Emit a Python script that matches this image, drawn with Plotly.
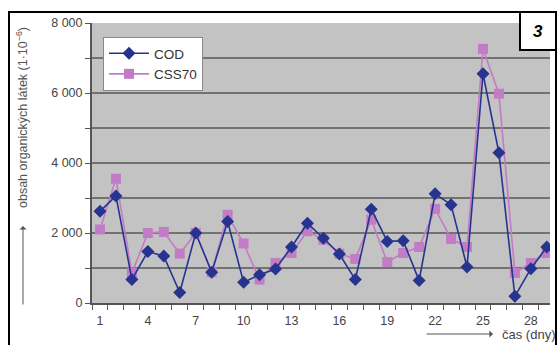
import plotly.graph_objects as go

days = list(range(1, 30))
cod = [2620, 3060, 670, 1470, 1340, 300, 2000, 880, 2330, 590,
       810, 970, 1600, 2280, 1850, 1400, 670, 2680, 1760, 1780,
       640, 3120, 2810, 1030, 6550, 4290, 190, 980, 1600]
css70 = [2100, 3550, 860, 2000, 2030, 1410, 2000, 880, 2520, 1700,
         670, 1140, 1430, 2050, 1810, 1410, 1260, 2380, 1170, 1430,
         1600, 2690, 1830, 1600, 7260, 5980, 860, 1140, 1430]
tick_days = days[::3]
tick_labels = [str(d) for d in tick_days]

FONT = "Liberation Sans, Arial, sans-serif"
COD_C = "#26338f"
CSS_C = "#c27cc6"

fig = go.Figure()
fig.add_trace(go.Scatter(x=days, y=css70, name="CSS70", mode="lines+markers",
                         line=dict(color=CSS_C, width=1.6),
                         marker=dict(symbol="square", size=10, color=CSS_C)))
fig.add_trace(go.Scatter(x=days, y=cod, name="COD", mode="lines+markers",
                         line=dict(color=COD_C, width=1.6),
                         marker=dict(symbol="diamond", size=10, color=COD_C)))

W, H = 558, 345
L, R, T, B = 92, 8, 23, 42
pw, ph = W - L - R, H - T - B
def px(x): return (x - L) / pw
def py(y): return (H - B - y) / ph

fig.update_layout(
    width=W, height=H,
    margin=dict(l=L, r=R, t=T, b=B),
    paper_bgcolor="white", plot_bgcolor="#c3c3c3",
    separators=", ",
    font=dict(family=FONT, size=12, color="#444"),
    showlegend=True,
    legend=dict(x=px(103), y=py(37), xanchor="left", yanchor="top",
                bgcolor="white", bordercolor="#888", borderwidth=1,
                traceorder="reversed", font=dict(size=13.5, color="#333"),
                itemwidth=40, tracegroupgap=0),
    xaxis=dict(range=[0.5, 29.2], tickvals=tick_days, ticktext=tick_labels,
               ticks="", showgrid=False, zeroline=False, ticklabelstandoff=5,
               showline=True, linecolor="#555", linewidth=2,
               minor=dict(tick0=0.5, dtick=1, ticks="outside", ticklen=5,
                          tickcolor="#555", showgrid=False),
               tickfont=dict(size=12.5, color="#444")),
    yaxis=dict(range=[0, 8000], dtick=2000, tickformat=",d",
               ticks="outside", ticklen=5, tickcolor="#555",
               showgrid=True, gridcolor="#727272", gridwidth=1.6,
               zeroline=False, showline=True, linecolor="#555", linewidth=2,
               minor=dict(dtick=1000, ticks="outside", ticklen=5,
                          tickcolor="#555", showgrid=True,
                          gridcolor="#727272", gridwidth=1.6),
               tickfont=dict(size=12.5, color="#444")),
)

# outer frame and panel number box
fig.add_shape(type="rect", xref="paper", yref="paper",
              x0=px(9), x1=px(556), y0=py(352), y1=py(12),
              line=dict(color="black", width=2), layer="above")
fig.add_shape(type="rect", xref="paper", yref="paper",
              x0=px(520), x1=px(556), y0=py(50), y1=py(12),
              line=dict(color="black", width=2), fillcolor="white", layer="above")
fig.add_annotation(xref="paper", yref="paper", x=px(538), y=py(31),
                   xanchor="center", yanchor="middle",
                   text="<b><i>3</i></b>", showarrow=False,
                   font=dict(family=FONT, size=17, color="black"))

# y axis title with arrow
fig.add_annotation(xref="paper", yref="paper", x=px(22), y=py(118),
                   xanchor="center", yanchor="middle",
                   text="obsah organických látek (1·10<sup>−6</sup>)",
                   textangle=-90, showarrow=False,
                   font=dict(family=FONT, size=12.5, color="#555"))
fig.add_annotation(xref="paper", yref="paper", x=px(23), y=py(226),
                   ax=0, ay=80, text="", showarrow=True,
                   arrowhead=1, arrowsize=1.2, arrowwidth=1, arrowcolor="#555")

# x axis title with arrow
fig.add_annotation(xref="paper", yref="paper", x=px(528), y=py(334),
                   xanchor="center", yanchor="middle",
                   text="čas (dny)", showarrow=False,
                   font=dict(family=FONT, size=13, color="#444"))
fig.add_annotation(xref="paper", yref="paper", x=px(493), y=py(334),
                   ax=-68, ay=0, text="", showarrow=True,
                   arrowhead=1, arrowsize=1.2, arrowwidth=1, arrowcolor="#555")

fig.write_html("out.html", config={"displayModeBar": False},
               post_script="document.body.style.margin='0';document.body.style.overflow='hidden';")
